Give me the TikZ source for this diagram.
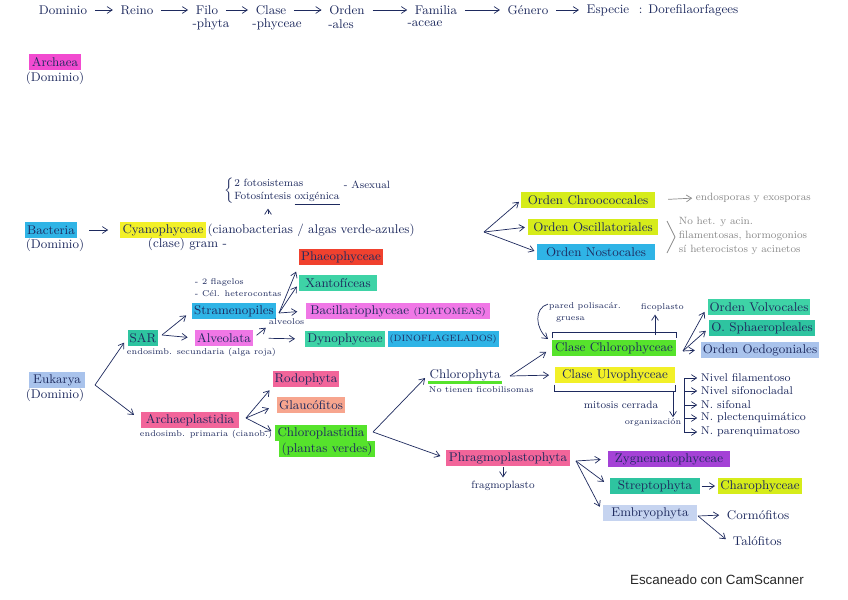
\documentclass[tikz,border=0pt]{standalone}
\usepackage{fontspec}
\usepackage{xcolor}
\usepackage{tikz}
\usetikzlibrary{arrows.meta,positioning}
\newfontfamily\scanfont{Liberation Sans}
\definecolor{Ink}{HTML}{1E2A5E}
\definecolor{Pencil}{HTML}{8A8A8A}
\definecolor{HlMagenta}{HTML}{F24BD0}
\definecolor{HlCyan}{HTML}{2FB4E6}
\definecolor{HlYellow}{HTML}{F2F028}
\definecolor{HlLime}{HTML}{D6EC1A}
\definecolor{HlSky}{HTML}{A9C3EC}
\definecolor{HlTeal}{HTML}{2EC4A0}
\definecolor{HlMint}{HTML}{3ED3A6}
\definecolor{HlPink}{HTML}{F077E6}
\definecolor{HlRed}{HTML}{F0412E}
\definecolor{HlRose}{HTML}{F2659A}
\definecolor{HlSalmon}{HTML}{F7A58E}
\definecolor{HlGreen}{HTML}{56E32C}
\definecolor{HlPurple}{HTML}{A442D6}
\definecolor{HlPale}{HTML}{C6D4F0}
\tikzset{
  sheet/.style={x=0.025cm,y=-0.025cm,text=Ink,font=\fontsize{9}{10}\selectfont},
  hl/.style={fill=#1,inner xsep=1.5pt,inner ysep=1.5pt,minimum height=0.38cm},
  note/.style={font=\fontsize{6}{8.5}\selectfont,inner sep=0.5pt},
  small/.style={font=\fontsize{7.5}{9.5}\selectfont,inner sep=0.5pt},
  pencil/.style={text=Pencil,font=\fontsize{7.5}{10}\selectfont,inner sep=0.5pt},
  flow/.style={draw=Ink,line width=0.5pt,shorten >=2pt,-{Straight Barb[length=1.3mm,width=1.7mm]}},
  rank/.style={flow,shorten <=2pt},
}
\newcommand{\caps}[1]{{\fontsize{6.5}{8}\selectfont #1}}

\begin{document}
\begin{tikzpicture}[sheet]
  \useasboundingbox (0,0) rectangle (848,599);

  % jerarquia taxonomica
  \node (dominio) at (63,10) {Dominio};
  \node (reino) at (137,10) {Reino};
  \node (filo) at (207,10) {Filo};
  \node (clase) at (271,10) {Clase};
  \node (orden) at (347,10) {Orden};
  \node (familia) at (436,10) {Familia};
  \node (genero) at (528,10) {Género};
  \node (especie) at (608,10) {Especie};
  \node[anchor=west] (regla) at (634,10) {: Dorefilaorfagees};
  \draw[rank] (dominio) -- (reino);
  \draw[rank] (reino) -- (filo);
  \draw[rank] (filo) -- (clase);
  \draw[rank] (clase) -- (orden);
  \draw[rank] (orden) -- (familia);
  \draw[rank] (familia) -- (genero);
  \draw[rank] (genero) -- (especie);
  \node (sfilo) at (211,24) {-phyta};
  \node (sclase) at (277,24) {-phyceae};
  \node (sorden) at (341,24) {-ales};
  \node (sfamilia) at (425,24) {-aceae};

  % Archaea
  \node[hl=HlMagenta,minimum width=1.28cm] (archaea) at (55,62) {Archaea};
  \node (archdom) at (55,78) {(Dominio)};

  % Bacteria
  \node[hl=HlCyan,minimum width=1.18cm] (bacteria) at (51,230) {Bacteria};
  \node (bacdom) at (55,245) {(Dominio)};
  \node[hl=HlYellow,minimum width=1.68cm] (cyano) at (163,230) {Cyanophyceae};
  \node[anchor=west,inner sep=1pt] (cyanotxt) at (cyano.east) {(cianobacterias / algas verde-azules)};
  \node[anchor=west] (clasegram) at (143,244) {(clase) gram -};
  \draw[flow,shorten <=0.3cm,shorten >=0.3cm] (bacteria.east) -- (cyano.west);
  \node[small,anchor=west] (fotosint) at (224,191)
    {$\left\{\mbox{\begin{tabular}{@{}l@{}}2 fotosistemas\\Fotosíntesis \underline{oxigénica}\end{tabular}}\right.$};
  \node[small,anchor=west] (asexual) at (343,185) {- Asexual};
  \coordinate (fotoBase) at (268,214);
  \draw[flow] (fotoBase) -- (fotoBase |- fotosint.south);

  \coordinate (cyanoFork) at (484,232);
  \node[hl=HlLime,minimum width=3.33cm] (chroo) at (588,200) {Orden Chroococcales};
  \node[hl=HlLime,minimum width=3.25cm] (oscil) at (593,227) {Orden Oscillatoriales};
  \node[hl=HlCyan,minimum width=2.93cm] (nosto) at (596,252) {Orden Nostocales};
  \draw[flow] (cyanoFork) -- (chroo.west);
  \draw[flow] (cyanoFork) -- (oscil.west);
  \draw[flow] (cyanoFork) -- (nosto.west);
  \node[pencil,anchor=west] (endosp) at (695,198) {endosporas y exosporas};
  \draw[flow,draw=Pencil,shorten <=0.33cm] (chroo.east) -- (endosp.west);
  \draw[Pencil,line width=0.5pt] (667,221) -- (675,237) -- (667,253);
  \node[pencil,anchor=west,align=left] (oscnote) at (678,236)
    {No het. y acin.\\filamentosas, hormogonios\\sí heterocistos y acinetos};

  % Eukarya
  \node[hl=HlSky,minimum width=1.4cm] (eukarya) at (57,380) {Eukarya};
  \node (eukdom) at (55,395) {(Dominio)};
  \coordinate (eukFork) at (95,385);
  \node[hl=HlTeal,minimum width=0.63cm] (sar) at (143,338) {SAR};
  \node[note,anchor=west] (sarnote) at (126,352) {endosimb. secundaria (alga roja)};
  \node[hl=HlRose,minimum width=2.45cm] (archpl) at (190,420) {Archaeplastidia};
  \node[note,anchor=west] (archnote) at (139,434) {endosimb. primaria (cianob.)};
  \draw[flow,shorten >=4pt] (eukFork) -- (sar.west);
  \draw[flow,shorten >=6pt] (eukFork) -- (archpl.west);

  % SAR
  \coordinate (sarFork) at (162,335);
  \node[hl=HlCyan,minimum width=2.1cm] (stram) at (234,311) {Stramenopiles};
  \node[hl=HlPink,minimum width=1.45cm] (alveo) at (224,338) {Alveolata};
  \node[note,anchor=west,align=left] (stramnote) at (194,288) {- 2 flagelos\\- Cél. heterocontas};
  \draw[flow,shorten >=5pt] (sarFork) -- (stram.west);
  \draw[flow,shorten >=5pt] (sarFork) -- (alveo.west);

  \coordinate (stramFork) at (279,313);
  \node[hl=HlRed,minimum width=2.05cm] (phaeo) at (341,257) {Phaeophyceae};
  \node[hl=HlMint,minimum width=1.93cm] (xanto) at (338,283) {Xantofíceas};
  \node[hl=HlPink,minimum width=4.6cm] (bacil) at (398,311) {Bacillariophyceae \caps{(DIATOMEAS)}};
  \draw[flow,shorten >=5pt] (stramFork) -- (phaeo.south west);
  \draw[flow,shorten >=3pt] (stramFork) -- (xanto.west);
  \draw[flow,shorten >=6pt] (stramFork) -- (bacil.west);

  \node[note,anchor=west] (alveolos) at (268,322) {alveolos};
  \draw[flow,shorten <=3pt] (alveo.east) -- (alveolos.south west);
  \node[hl=HlMint,anchor=west] (dyno) at (305,339) {Dynophyceae};
  \node[hl=HlCyan,anchor=west,minimum width=2.38cm] (dinofl) at ([xshift=1.5pt]dyno.east) {\caps{(DINOFLAGELADOS)}};
  \draw[flow,shorten <=0.38cm,shorten >=0.25cm] (alveo.east) -- (dyno.west);

  % Archaeplastidia
  \coordinate (archFork) at (246,418);
  \node[hl=HlRose,minimum width=1.55cm] (rodo) at (306,379) {Rodophyta};
  \node[hl=HlSalmon,minimum width=1.68cm] (glauco) at (311,405) {Glaucófitos};
  \node[hl=HlGreen,minimum width=2.2cm] (chlpl) at (321,433) {Chloroplastidia};
  \node[hl=HlGreen,minimum width=2.38cm,minimum height=0.34cm] (verdes) at (327,449) {(plantas verdes)};
  \draw[flow,shorten >=3pt] (archFork) -- (rodo.south west);
  \draw[flow,shorten >=6pt] (archFork) -- (glauco.west);
  \draw[flow,shorten >=3pt] (archFork) -- (chlpl.west);

  % Chloroplastidia
  \coordinate (chlplFork) at (373,432);
  \node[anchor=west,inner sep=1pt] (chlorophyta) at (428,375) {Chlorophyta};
  \draw[HlGreen,line width=2pt] (chlorophyta.south west) -- (chlorophyta.south east);
  \node[note,anchor=west] (ficobil) at (428,390) {No tienen ficobilisomas};
  \node[hl=HlRose,minimum width=3.1cm] (phragmo) at (508,458) {Phragmoplastophyta};
  \draw[flow,shorten >=3pt] (chlplFork) -- (chlorophyta.west);
  \draw[flow,shorten >=4pt] (chlplFork) -- (phragmo.west);

  % Chlorophyta
  \coordinate (chlFork) at (510,376);
  \node[hl=HlGreen,minimum width=3.08cm] (chlcl) at (614,348) {Clase Chlorophyceae};
  \node[hl=HlYellow,minimum width=3.0cm] (ulvo) at (615,375) {Clase Ulvophyceae};
  \draw[flow,shorten >=5pt] (chlFork) -- (chlcl.west);
  \draw[flow,shorten >=4pt] (chlFork) -- (ulvo.west);

  \node[note,anchor=west,align=left] (pared) at (548,312) {pared polisacár.\\\hspace{5pt}gruesa};
  \coordinate (paredEnd) at (548,339);
  \draw[flow,shorten >=0pt] ([yshift=-2pt]pared.north west) .. controls (534,308) and (535,328) .. (paredEnd);
  \draw[Ink,line width=0.5pt] ([yshift=1pt]chlcl.north west) |- ([yshift=5pt]chlcl.north east) -- ([yshift=1pt]chlcl.north east);
  \node[note,anchor=west] (ficopl) at (640,307) {ficoplasto};
  \coordinate (ficoBase) at (655,335);
  \draw[flow] (ficoBase) -- (ficoBase |- ficopl.south);

  \draw[Ink,line width=0.5pt] ([yshift=-1pt]ulvo.south west) |- ([yshift=-6pt]ulvo.south east) -- ([yshift=-1pt]ulvo.south east);
  \node[small] (mitosis) at (621,405) {mitosis cerrada};
  \coordinate (orgTop) at (673,391);
  \node[note] (organiz) at (653,422) {organización};
  \draw[flow,shorten >=0pt] (orgTop) -- (orgTop |- organiz.north);

  \coordinate (nivSpine) at (684,0);
  \node[small,font=\fontsize{8}{9}\selectfont,anchor=west] (niv1) at (700,378) {Nivel filamentoso};
  \node[small,font=\fontsize{8}{9}\selectfont,anchor=west] (niv2) at (700,391) {Nivel sifonocladal};
  \node[small,font=\fontsize{8}{9}\selectfont,anchor=west] (niv3) at (700,405) {N. sifonal};
  \node[small,font=\fontsize{8}{9}\selectfont,anchor=west] (niv4) at (700,418) {N. plectenquimático};
  \node[small,font=\fontsize{8}{9}\selectfont,anchor=west] (niv5) at (700,432) {N. parenquimatoso};
  \draw[Ink,line width=0.5pt] (niv1.west -| nivSpine) -- (niv5.west -| nivSpine);
  \draw[flow] (niv1.west -| nivSpine) -- (niv1.west);
  \draw[flow] (niv2.west -| nivSpine) -- (niv2.west);
  \draw[flow] (niv3.west -| nivSpine) -- (niv3.west);
  \draw[flow] (niv4.west -| nivSpine) -- (niv4.west);
  \draw[flow] (niv5.west -| nivSpine) -- (niv5.west);

  % Chlorophyceae
  \coordinate (chlclFork) at (683,351);
  \node[hl=HlMint,minimum width=2.3cm] (volvo) at (759,307) {Orden Volvocales};
  \node[hl=HlTeal,minimum width=2.38cm] (sphae) at (762,328) {O. Sphaeropleales};
  \node[hl=HlSky,minimum width=2.78cm] (oedo) at (760,350) {Orden Oedogoniales};
  \draw[flow,shorten >=4pt] (chlclFork) -- (volvo.west);
  \draw[flow,shorten >=3pt] (chlclFork) -- (sphae.west);
  \draw[flow,shorten >=4pt] (chlclFork) -- (oedo.west);

  % Phragmoplastophyta
  \node[small] (fragmo) at (503,486) {fragmoplasto};
  \draw[flow,shorten <=1pt] (phragmo.south -| fragmo.north) -- (fragmo.north);
  \coordinate (phragFork) at (576,461);
  \node[hl=HlPurple,minimum width=3.05cm] (zygne) at (669,459) {Zygnematophyceae};
  \node[hl=HlTeal,minimum width=2.25cm] (strepto) at (655,486) {Streptophyta};
  \node[hl=HlLime,minimum width=2.0cm] (charo) at (760,486) {Charophyceae};
  \node[hl=HlPale,minimum width=2.33cm] (embryo) at (650,513) {Embryophyta};
  \draw[flow,shorten >=5pt] (phragFork) -- (zygne.west);
  \draw[flow,shorten >=5pt] (phragFork) -- (strepto.west);
  \draw[flow,shorten >=5pt] (phragFork) -- (embryo.west);
  \draw[flow,shorten <=1pt] (strepto.east) -- (charo.west);

  \coordinate (embFork) at (698,516);
  \node[anchor=west] (cormo) at (722,515) {Cormófitos};
  \node[anchor=west] (talo) at (728,541) {Talófitos};
  \draw[flow] (embFork) -- (cormo.west);
  \draw[flow] (embFork) -- (talo.west);

  \node[font=\scanfont\fontsize{9.5}{11}\selectfont,text=black!85] (scanner) at (717,580) {Escaneado con CamScanner};
\end{tikzpicture}
\end{document}
